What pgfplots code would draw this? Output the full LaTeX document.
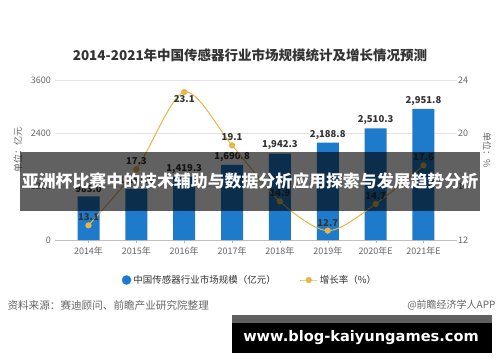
\documentclass[border=0pt]{standalone}
\usepackage{pgfplots}
\pgfplotsset{compat=1.18}
\usepackage{fontspec}
\setmainfont{Noto Sans CJK SC}
\newfontfamily\urlfont{DejaVu Sans}
\definecolor{barblue}{HTML}{1E7BCB}
\definecolor{gold}{HTML}{E8B646}
\definecolor{txtdark}{HTML}{333333}
\definecolor{tickgray}{HTML}{666666}
\begin{document}
\begin{tikzpicture}[x=1pt,y=1pt]
\fill[white] (0,0) rectangle (500,362);
\useasboundingbox (0,0) rectangle (500,362);
\pgfplotsset{
  common/.style={
    at={(55pt,122pt)}, anchor=south west,
    scale only axis, width=402pt, height=160pt,
    xmin=-0.7, xmax=7.7,
    /pgf/number format/assume math mode=true,
    tick label style={font=\fontsize{9}{10}\selectfont, color=tickgray},
    label style={font=\fontsize{9}{10}\selectfont, color=tickgray},
  }
}
\begin{axis}[common,
  ymin=0, ymax=3600, ytick={0,1200,2400,3600},
  yticklabel style={/pgf/number format/1000 sep={}},
  axis x line*=bottom, axis y line*=left,
  y axis line style={draw=none},
  x axis line style={draw=gray!50},
  ytick style={draw=none},
  xtick style={draw=gray!60},
  tick align=outside, major tick length=3pt,
  ymajorgrids, grid style={gray!22},
  xtick={0,...,7},
  xticklabels={2014年,2015年,2016年,2017年,2018年,2019年,2020年E,2021年E},
  yticklabel style={inner sep=1pt},
  ylabel={单位：亿元},
  ylabel style={at={(axis description cs:-0.092,0.56)}, anchor=center},
]
\addplot[ybar, bar width=22pt, fill=barblue, draw=none,
  nodes near coords,
  every node near coord/.append style={font=\bfseries\fontsize{9.5}{10}\selectfont, color=txtdark},
  /pgf/number format/.cd, fixed, fixed zerofill, precision=1, 1000 sep={,}]
  coordinates {(0,983.0) (1,1153.0) (2,1419.3) (3,1690.8) (4,1942.3) (5,2188.8) (6,2510.3) (7,2951.8)};
\end{axis}
\begin{axis}[common,
  ymin=12, ymax=24, ytick={12,16,20,24},
  axis y line*=right, axis x line=none,
  y axis line style={draw=none},
  ytick style={draw=none},
  yticklabel style={inner sep=1pt},
  ylabel={单位：\%},
  ylabel style={at={(axis description cs:1.075,0.56)}, anchor=center, rotate=180},
  legend style={at={(axis description cs:0.485,-0.25)}, anchor=center, draw=none,
    font=\fontsize{9.5}{11}\selectfont, text=txtdark, legend columns=2,
    /tikz/every even column/.append style={column sep=22pt}},
]
\addlegendimage{legend image code/.code={\fill[barblue] (0.3em,0) circle (4.5pt);}}
\addlegendentry{中国传感器行业市场规模（亿元）}
\addplot[smooth, color=gold, line width=1pt, mark=*, mark size=2.6pt,
  mark options={fill=gold, draw=gold}]
  coordinates {(0,13.1) (1,17.3) (2,23.1) (3,19.1) (4,14.9) (5,12.7) (6,14.7) (7,17.6)};
\addlegendentry{增长率（\%）}
\addplot[draw=none, forget plot, nodes near coords, nodes near coords align=above,
  every node near coord/.append style={font=\bfseries\fontsize{9.5}{10}\selectfont, color=txtdark, yshift=1pt},
  /pgf/number format/.cd, fixed, fixed zerofill, precision=1]
  coordinates {(0,13.1) (1,17.3) (3,19.1) (4,14.9) (5,12.7) (6,14.7) (7,17.6)};
\addplot[draw=none, forget plot, nodes near coords, nodes near coords align=below,
  every node near coord/.append style={font=\bfseries\fontsize{9.5}{10}\selectfont, color=txtdark},
  /pgf/number format/.cd, fixed, fixed zerofill, precision=1]
  coordinates {(2,23.1)};
\end{axis}
% title
\node[font=\bfseries\fontsize{13.5}{15}\selectfont, text=txtdark] at (250,307) {2014-2021年中国传感器行业市场规模统计及增长情况预测};
% banner overlay
\fill[black, fill opacity=0.62] (20,151) rectangle (480,210);
\node[font=\bfseries\fontsize{16.9}{18}\selectfont, text=white] at (250,180.5) {亚洲杯比赛中的技术辅助与数据分析应用探索与发展趋势分析};
% source
\node[anchor=west, font=\fontsize{10.6}{12}\selectfont, text=tickgray] at (4,57) {资料来源：赛迪顾问、前瞻产业研究院整理};
\node[anchor=east, font=\fontsize{10}{12}\selectfont, text=tickgray] at (499,57) {@前瞻经济学人APP};
% url box
\fill[gray!75!black] (232,39) rectangle (492,47);
\fill[black] (232,9) rectangle (492,39);
\node[font=\urlfont\bfseries\fontsize{14.6}{16}\selectfont, text=white] at (361,24) {www.blog-kaiyungames.com};
\end{tikzpicture}
\end{document}
